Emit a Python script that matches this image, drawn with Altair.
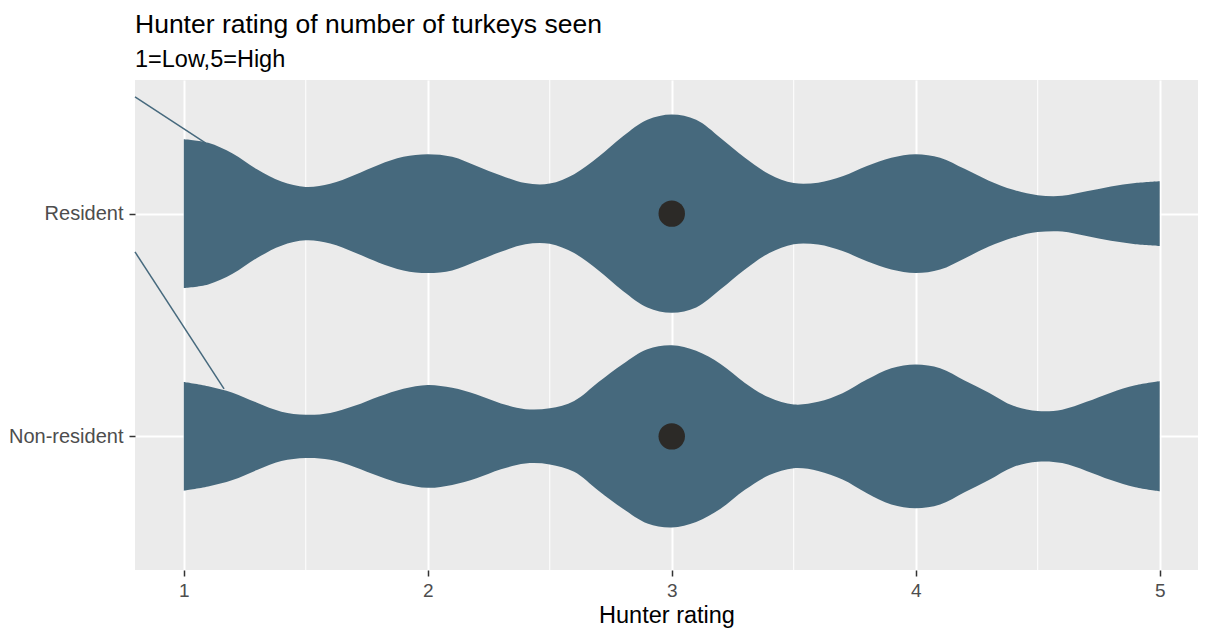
import altair as alt
import pandas as pd

# Hunter rating grid (x) at which violin widths were read
ratings = [1.0, 1.1, 1.2, 1.3, 1.4, 1.5, 1.6, 1.7, 1.8, 1.9,
           2.0, 2.1, 2.2, 2.3, 2.4, 2.5, 2.6, 2.7, 2.8, 2.9,
           3.0, 3.1, 3.2, 3.3, 3.4, 3.5, 3.6, 3.7, 3.8, 3.9,
           4.0, 4.1, 4.2, 4.3, 4.4, 4.5, 4.6, 4.7, 4.8, 4.9, 5.0]

# Half-widths of the violins (in category units)
resident_hw = [0.334, 0.318, 0.270, 0.199, 0.144, 0.120, 0.134, 0.174, 0.220, 0.255,
               0.267, 0.255, 0.214, 0.171, 0.137, 0.135, 0.177, 0.255, 0.347, 0.421,
               0.445, 0.421, 0.340, 0.251, 0.177, 0.137, 0.139, 0.168, 0.214, 0.251,
               0.267, 0.251, 0.201, 0.148, 0.107, 0.083, 0.080, 0.100, 0.122, 0.137, 0.145]
nonresident_hw = [0.244, 0.225, 0.196, 0.151, 0.111, 0.097, 0.105, 0.137, 0.179, 0.214,
                  0.231, 0.218, 0.188, 0.148, 0.122, 0.126, 0.159, 0.244, 0.325, 0.391,
                  0.409, 0.384, 0.325, 0.240, 0.174, 0.143, 0.155, 0.194, 0.255, 0.306,
                  0.323, 0.306, 0.251, 0.196, 0.137, 0.114, 0.120, 0.155, 0.196, 0.229, 0.247]

groups = ["Resident", "Non-resident"]
group_means = [3.0, 3.0]

# stray outline segments seen at the left of the panel
seg_group = ["Resident", "Non-resident"]
seg_x1 = [0.80, 0.80]
seg_y1 = [2.524, 1.828]
seg_x2 = [1.09, 1.165]
seg_y2 = [2.317, 1.213]

x_major = [1, 2, 3, 4, 5]
x_minor = [1.5, 2.5, 3.5, 4.5]
y_breaks = [1, 2]

VIOLIN = "#46697D"
FONT = "Liberation Sans"

violin_df = pd.DataFrame({
    "rating": ratings * 2,
    "half_width": resident_hw + nonresident_hw,
    "group": ["Resident"] * len(ratings) + ["Non-resident"] * len(ratings),
})
mean_df = pd.DataFrame({"group": groups, "mean": group_means})
seg_df = pd.DataFrame({"group": seg_group, "x1": seg_x1, "y1": seg_y1, "x2": seg_x2, "y2": seg_y2})
minor_df = pd.DataFrame({"minor": x_minor})

pos_expr = "(datum.group === 'Resident' ? 2 : 1)"

xs = alt.Scale(domain=[0.8, 5.157], nice=False, zero=False)
ys = alt.Scale(domain=[0.4, 2.6], nice=False, zero=False)

x_axis = alt.Axis(
    values=x_major, format="d", title="Hunter rating",
    grid=True, gridColor="white", gridWidth=2,
    domain=False, ticks=True, tickColor="#333333", tickSize=6, tickWidth=1.5,
    labelFont=FONT, labelFontSize=19, labelColor="#4D4D4D", labelPadding=5,
    titleFont=FONT, titleFontSize=23.5, titleColor="black", titleFontWeight="normal",
    titlePadding=3,
)
y_axis = alt.Axis(
    values=y_breaks, title=None,
    labelExpr="datum.value == 2 ? 'Resident' : 'Non-resident'",
    grid=True, gridColor="white", gridWidth=2,
    domain=False, ticks=True, tickColor="#333333", tickSize=6, tickWidth=1.5,
    labelFont=FONT, labelFontSize=20, labelColor="#4D4D4D", labelPadding=6,
)

minor = alt.Chart(minor_df).mark_rule(color="white", strokeWidth=1).encode(
    x=alt.X("minor:Q", scale=xs, axis=x_axis)
)

violins = alt.Chart(violin_df).transform_calculate(
    lo=pos_expr + " - datum.half_width",
    hi=pos_expr + " + datum.half_width",
).mark_area(color=VIOLIN, interpolate="catmull-rom", opacity=1, orient="vertical").encode(
    x=alt.X("rating:Q", scale=xs),
    y=alt.Y("lo:Q", scale=ys, axis=y_axis),
    y2=alt.Y2("hi:Q"),
    detail="group:N",
)

segs = alt.Chart(seg_df).mark_rule(color=VIOLIN, strokeWidth=1.5).encode(
    x=alt.X("x1:Q", scale=xs), x2="x2:Q",
    y=alt.Y("y1:Q", scale=ys), y2="y2:Q",
)

means = alt.Chart(mean_df).transform_calculate(pos=pos_expr).mark_circle(
    size=700, color="#2C2A27", opacity=1
).encode(
    x=alt.X("mean:Q", scale=xs),
    y=alt.Y("pos:Q", scale=ys),
)

chart = alt.layer(minor, violins, segs, means).properties(
    width=1063, height=490,
    title=alt.TitleParams(
        "Hunter rating of number of turkeys seen",
        subtitle="1=Low,5=High",
        anchor="start", frame="group",
        font=FONT, fontSize=26.5, fontWeight="normal", color="black",
        subtitleFont=FONT, subtitleFontSize=23.5, subtitleColor="black",
        offset=8, subtitlePadding=10,
    ),
    autosize=alt.AutoSizeParams(type="none"),
    padding={"left": 127, "top": 72, "right": 0, "bottom": 62},
).configure_view(fill="#EBEBEB", strokeWidth=0)

chart.save("out.html", embed_options={"renderer": "svg", "actions": False})
